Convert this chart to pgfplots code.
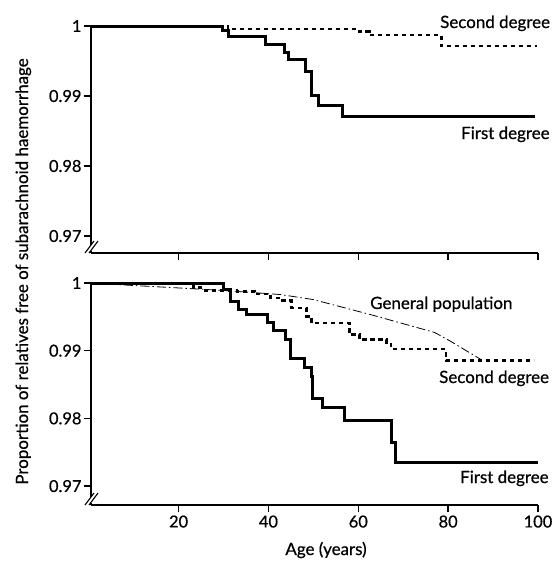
\documentclass[border=0pt]{standalone}
\usepackage{fontspec}
\setmainfont{Lato}[FakeBold=0.6]
\usepackage{pgfplots}
\pgfplotsset{compat=1.18}
\begin{document}
\begin{tikzpicture}
\useasboundingbox (0bp,0bp) rectangle (553bp,-562bp);
\pgfplotsset{
  every axis/.append style={
    scale only axis, width=447bp, anchor=south west, clip=false,
    xmin=0.5, xmax=100, ymax=1,
    axis lines=left, axis line style={-, line width=1.8bp},
    tick align=outside, major tick length=7bp,
    every tick/.style={black, line width=1.5bp},
    xtick={20,40,60,80,100},
    ytick={0.97,0.98,0.99,1}, yticklabels={0.97,0.98,0.99,1},
    minor tick num=0,
    tick label style={font=\fontsize{16.5}{19}\selectfont},
    yticklabel style={xshift=1bp},
  },
}
\tikzset{
  first/.style={black, line width=3bp, const plot},
  second/.style={black, line width=2.8bp, const plot, dash pattern=on 4.5bp off 3.5bp},
  gen/.style={black, line width=0.8bp, dash pattern=on 9bp off 3bp on 1.5bp off 3bp},
}
% top panel
\begin{axis}[at={(91bp,-253bp)}, height=227bp, ymin=0.96757, xticklabels={}]
\addplot[second] coordinates {(0.5,1) (31.0,0.99957) (60.2,0.9992) (62.5,0.99871) (78.5,0.99714) (99.8,0.99714)};
\addplot[first] coordinates {(0.5,1) (29.8,0.9993) (31.2,0.99845) (39.4,0.99739) (43.5,0.9962) (44.4,0.9952) (48.3,0.99343) (49.5,0.99014) (51.2,0.98871) (56.4,0.98704) (99.3,0.98704)};
\end{axis}
% bottom panel
\begin{axis}[at={(91bp,-505bp)}, height=222bp, ymin=0.9672, xticklabels={20,40,60,80,100}]
\addplot[gen] coordinates {(0.5,1) (10,0.99963) (20,0.99927) (30,0.9989) (42.6,0.9983) (50,0.99755) (62.9,0.9953) (77,0.99269) (80,0.9916) (87.4,0.98866)};
\addplot[second] coordinates {(0.5,1) (23.4,0.9993) (25,0.9989) (33,0.99875) (37,0.99837) (40.5,0.99778) (43.2,0.9974) (45.2,0.9963) (48.5,0.99506) (49.6,0.99408) (58.1,0.99235) (60.3,0.99161) (66.3,0.9910) (67.3,0.99024) (79.5,0.98855) (99,0.98855)};
\addplot[first] coordinates {(0.5,1) (30.1,0.99901) (31.6,0.99728) (33.3,0.99615) (35.2,0.99531) (39.8,0.99417) (41.2,0.99299) (43.9,0.99161) (45.0,0.98890) (48.0,0.98751) (49.5,0.98618) (49.9,0.98299) (52.1,0.98160) (56.9,0.97963) (67.4,0.97642) (68.3,0.97346) (100,0.97346)};
\end{axis}
% axis break marks
\foreach \yy in {-247,-499}{
  \fill[white] (88bp,\yy bp-4bp) rectangle (94bp,\yy bp+2bp);
  \draw[line width=1.1bp] (85bp,\yy bp-6bp) -- (94bp,\yy bp+6bp);
  \draw[line width=1.1bp] (89bp,\yy bp-6bp) -- (98bp,\yy bp+6bp);
}
% labels
\begin{scope}[every node/.style={inner sep=0pt, font=\fontsize{17}{20}\selectfont}]
\node[anchor=base west] at (440bp,-28bp) {Second degree};
\node[anchor=base west] at (461bp,-139bp) {First degree};
\node[anchor=base west] at (370bp,-309bp) {General population};
\node[anchor=base west] at (439bp,-383bp) {Second degree};
\node[anchor=base west] at (460bp,-483bp) {First degree};
\node[anchor=base] at (326bp,-555bp) {Age (years)};
\node[anchor=base, rotate=90] at (28bp,-271.5bp) {Proportion of relatives free of subarachnoid haemorrhage};
\end{scope}
\end{tikzpicture}
\end{document}
